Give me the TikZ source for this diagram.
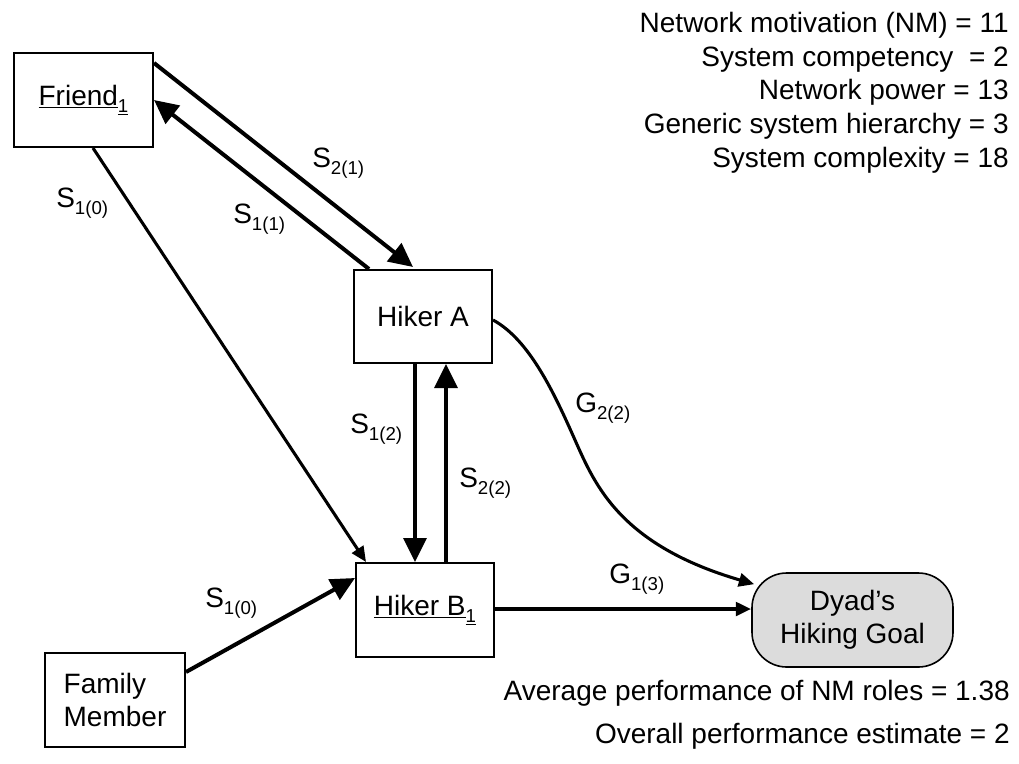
\documentclass[tikz,border=0pt]{standalone}
\usepackage{fontspec}
\setmainfont{Liberation Sans}
\usetikzlibrary{arrows.meta,calc}
\definecolor{dyadgray}{HTML}{DCDCDC}
\newcommand\mysub[1]{\raisebox{-5.5pt}{\fontsize{14}{14}\selectfont #1}}
\begin{document}
\begin{tikzpicture}[x=0.75pt,y=-0.75pt,
 every node/.style={font=\fontsize{21}{25}\selectfont, inner sep=0pt},
 box/.style={draw, line width=1.5pt, rectangle},
 conn/.style={line width=3pt},
 thinconn/.style={line width=2.3pt},
 bigtip/.style={-{Triangle[length=18pt,width=17pt]}},
 smalltip/.style={-{Triangle[length=11.5pt,width=10pt]}},
 lbl/.style={anchor=base west},
 info/.style={anchor=base east}]
\useasboundingbox (0,0) rectangle (1019,763);

% boxes
\node[box, minimum width=104.25pt, minimum height=70.5pt] (friend) at (83.5,100) {\underline{Friend}\mysub{\underline{1}}};
\node[box, minimum width=103.5pt, minimum height=69.75pt] (hikerA) at (423,316.5) {Hiker A};
\node[box, minimum width=103.5pt, minimum height=70.5pt] (hikerB) at (425,610) {\underline{Hiker B}\mysub{\underline{1}}};
\node[box, minimum width=105pt, minimum height=70.5pt, align=left] (family) at (115,700) {Family\\Member};
\node[draw, line width=1.2pt, fill=dyadgray, rounded corners=26pt, minimum width=150.75pt, minimum height=70.5pt, align=center] (dyad) at (852.5,620) {Dyad’s\\Hiking Goal};

% connectors
\draw[conn,bigtip] ($(friend.north east)+(0,11)$) -- ($(hikerA.north)+(-10,-2)$);
\draw[conn,bigtip] ($(hikerA.north west)+(16,0)$) -- (friend.east);
\draw[thinconn,smalltip] ($(friend.south)+(9.5,0)$) -- ($(hikerB.north west)+(11,0)$);
\draw[conn,bigtip] ($(family.north east)+(0,20)$) -- ($(hikerB.north west)+(0,16)$);
\draw[conn,bigtip] ($(hikerA.south)+(-8,0)$) -- ($(hikerB.north)+(-10,0)$);
\draw[conn,bigtip] ($(hikerB.north)+(21,0)$) -- ($(hikerA.south)+(23,0)$);
\draw[thinconn,smalltip] ($(hikerA.east)+(0,3.5)$) .. controls (530,340) and (555,395) .. (575,440) .. controls (595,485) and (620,545) .. ($(dyad.north west)+(3,12)$);
\draw[conn,smalltip] ($(hikerB.east)+(0,-1)$) -- ($(hikerB.east -| dyad.west)+(0,-1)$);

% connector labels
\node[lbl] (l1) at (312,167) {S\mysub{2(1)}};
\node[lbl] (l2) at (233,223) {S\mysub{1(1)}};
\node[lbl] (l3) at (56,207) {S\mysub{1(0)}};
\node[lbl] (l4) at (350,433) {S\mysub{1(2)}};
\node[lbl] (l5) at (459,487) {S\mysub{2(2)}};
\node[lbl] (l6) at (575,412) {G\mysub{2(2)}};
\node[lbl] (l7) at (609,583) {G\mysub{1(3)}};
\node[lbl] (l8) at (205,607) {S\mysub{1(0)}};

% info texts
\node[info] (i1) at (1009,33) {Network motivation (NM) = 11};
\node[info] (i2) at (1009,67) {System competency\ \ = 2};
\node[info] (i3) at (1009,100) {Network power = 13};
\node[info] (i4) at (1009,133) {Generic system hierarchy = 3};
\node[info] (i5) at (1009,167) {System complexity = 18};
\node[info] (i6) at (1010,700) {Average performance of NM roles = 1.38};
\node[info] (i7) at (1010,743) {Overall performance estimate = 2};
\end{tikzpicture}
\end{document}
